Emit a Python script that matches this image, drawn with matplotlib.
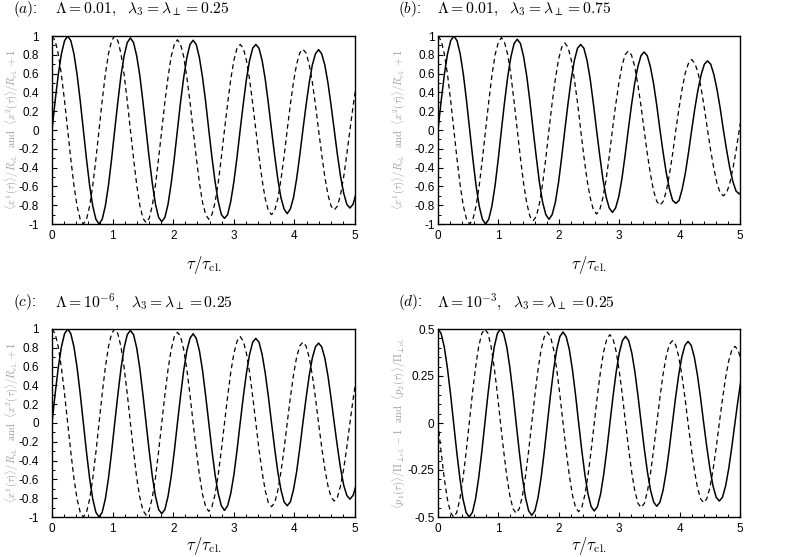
import numpy as np
import matplotlib
matplotlib.use("Agg")
import matplotlib.pyplot as plt
from matplotlib.ticker import MultipleLocator, FuncFormatter

plt.rcParams["mathtext.fontset"] = "cm"
plt.rcParams["axes.unicode_minus"] = False
plt.rcParams["font.family"] = ["Liberation Sans", "DejaVu Sans"]

# oscillation periods (tau / tau_cl.), samples every period/20
period_a = 1.035
period_b = 1.05
period_c = 1.035
period_d = 1.035

# (a) Lambda = 0.01, lambda = 0.25
solid_a = [0, .31, .59, .81, .95, 1.0, .95, .81, .59, .31,
           0, -.31, -.59, -.81, -.95, -1.0, -.95, -.81, -.59, -.31,
           0, .30, .58, .79, .93, .98, .93, .79, .58, .30,
           0, -.30, -.57, -.79, -.93, -.975, -.93, -.79, -.57, -.30,
           0, .30, .56, .77, .91, .955, .91, .77, .56, .30,
           0, -.29, -.55, -.76, -.90, -.94, -.90, -.76, -.55, -.29,
           0, .28, .54, .74, .87, .91, .87, .74, .54, .28,
           0, -.27, -.52, -.72, -.84, -.89, -.84, -.72, -.52, -.27,
           0, .26, .50, .69, .81, .855, .81, .69, .50, .26,
           0, -.26, -.49, -.67, -.79, -.83, -.79, -.67]
dashed_a = [1.0, .95, .81, .59, .31,
            0, -.31, -.59, -.81, -.95, -1.0, -.95, -.81, -.59, -.31,
            0, .31, .59, .81, .95, 1.0, .95, .81, .59, .31,
            0, -.30, -.58, -.80, -.94, -.985, -.94, -.80, -.58, -.30,
            0, .30, .56, .78, .91, .96, .91, .78, .56, .30,
            0, -.29, -.56, -.77, -.90, -.95, -.90, -.77, -.56, -.29,
            0, .28, .54, .74, .87, .91, .87, .74, .54, .28,
            0, -.28, -.53, -.73, -.86, -.90, -.86, -.73, -.53, -.28,
            0, .27, .51, .70, .82, .86, .82, .70, .51, .27,
            0, -.26, -.50, -.69, -.81, -.85, -.81, -.69, -.50, -.26,
            0, .25, .48]

# (b) Lambda = 0.01, lambda = 0.75
solid_b = [0, .31, .59, .81, .95, 1.0, .95, .81, .59, .31,
           0, -.31, -.59, -.81, -.95, -1.0, -.95, -.81, -.59, -.31,
           0, .30, .57, .78, .92, .965, .92, .78, .57, .30,
           0, -.29, -.56, -.77, -.90, -.95, -.90, -.77, -.56, -.29,
           0, .28, .54, .74, .87, .91, .87, .74, .54, .28,
           0, -.27, -.52, -.71, -.83, -.876, -.83, -.71, -.52, -.27,
           0, .26, .49, .67, .79, .83, .79, .67, .49, .26,
           0, -.24, -.46, -.63, -.75, -.78, -.75, -.63, -.46, -.24,
           0, .23, .43, .59, .70, .735, .70, .59, .43, .23,
           0, -.21, -.40, -.55, -.65, -.68, -.65]
dashed_b = [1.0, .95, .81, .59, .31,
            0, -.31, -.59, -.81, -.95, -1.0, -.95, -.81, -.59, -.31,
            0, .30, .58, .80, .93, .983, .93, .80, .58, .30,
            0, -.30, -.57, -.78, -.92, -.965, -.92, -.78, -.57, -.30,
            0, .29, .54, .75, .88, .926, .88, .75, .54, .29,
            0, -.28, -.53, -.72, -.85, -.894, -.85, -.72, -.53, -.28,
            0, .26, .49, .68, .80, .84, .80, .68, .49, .26,
            0, -.25, -.47, -.65, -.76, -.80, -.76, -.65, -.47, -.25,
            0, .23, .44, .61, .71, .75, .71, .61, .44, .23,
            0, -.22, -.41, -.57, -.67, -.70, -.67, -.57, -.41, -.22,
            0, .20]

# (c) Lambda = 1e-6, lambda = 0.25
solid_c = [0, .31, .59, .81, .95, 1.0, .95, .81, .59, .31,
           0, -.31, -.59, -.81, -.95, -1.0, -.95, -.81, -.59, -.31,
           0, .30, .58, .80, .94, .985, .94, .80, .58, .30,
           0, -.30, -.57, -.78, -.92, -.965, -.92, -.78, -.57, -.30,
           0, .29, .56, .77, .90, .95, .90, .77, .56, .29,
           0, -.29, -.55, -.75, -.88, -.93, -.88, -.75, -.55, -.29,
           0, .28, .53, .73, .86, .90, .86, .73, .53, .28,
           0, -.27, -.52, -.71, -.84, -.88, -.84, -.71, -.52, -.27,
           0, .26, .50, .69, .81, .85, .81, .69, .50, .26,
           0, -.25, -.48, -.66, -.77, -.81, -.77, -.66]
dashed_c = [1.0, .95, .81, .59, .31,
            0, -.31, -.59, -.81, -.95, -1.0, -.95, -.81, -.59, -.31,
            0, .31, .59, .81, .95, 1.0, .95, .81, .59, .31,
            0, -.30, -.58, -.79, -.93, -.98, -.93, -.79, -.58, -.30,
            0, .30, .57, .78, .92, .965, .92, .78, .57, .30,
            0, -.29, -.55, -.76, -.89, -.94, -.89, -.76, -.55, -.29,
            0, .28, .54, .74, .87, .92, .87, .74, .54, .28,
            0, -.28, -.52, -.72, -.85, -.89, -.85, -.72, -.52, -.28,
            0, .27, .51, .70, .82, .86, .82, .70, .51, .27,
            0, -.26, -.49, -.67, -.79, -.83, -.79, -.67, -.49, -.26,
            0, .25, .47]

# (d) Lambda = 1e-3, momenta
solid_d = [.5, .476, .405, .294, .155,
           0, -.155, -.294, -.405, -.476, -.5, -.476, -.405, -.294, -.155,
           0, .155, .294, .405, .476, .5, .476, .405, .294, .155,
           0, -.152, -.289, -.397, -.467, -.491, -.467, -.397, -.289, -.152,
           0, .150, .285, .392, .460, .484, .460, .392, .285, .150,
           0, -.145, -.275, -.379, -.445, -.468, -.445, -.379, -.275, -.145,
           0, .142, .271, .373, .438, .461, .438, .373, .271, .142,
           0, -.137, -.260, -.358, -.421, -.443, -.421, -.358, -.260, -.137,
           0, .134, .255, .351, .413, .434, .413, .351, .255, .134,
           0, -.128, -.244, -.336, -.395, -.415, -.395, -.336, -.244, -.128,
           0, .124, .235]
dashed_d = [0, -.155, -.294, -.405, -.476, -.5, -.476, -.405, -.294, -.155,
            0, .155, .294, .405, .476, .5, .476, .405, .294, .155,
            0, -.148, -.282, -.388, -.456, -.48, -.456, -.388, -.282, -.148,
            0, .149, .284, .391, .459, .483, .459, .391, .284, .149,
            0, -.146, -.278, -.382, -.449, -.472, -.449, -.382, -.278, -.146,
            0, .145, .276, .380, .447, .47, .447, .380, .276, .145,
            0, -.139, -.265, -.364, -.428, -.45, -.428, -.364, -.265, -.139,
            0, .135, .258, .354, .417, .438, .417, .354, .258, .135,
            0, -.131, -.249, -.343, -.403, -.424, -.403, -.343, -.249, -.131,
            0, .126, .240, .330, .388, .408, .388, .330]

titles = [r"$\Lambda = 0.01,\ \ \lambda_3 = \lambda_\perp = 0.25$",
          r"$\Lambda = 0.01,\ \ \lambda_3 = \lambda_\perp = 0.75$",
          r"$\Lambda = 10^{-6},\ \ \lambda_3 = \lambda_\perp = 0.25$",
          r"$\Lambda = 10^{-3},\ \ \lambda_3 = \lambda_\perp = 0.25$"]
letters = [r"$(a)$:", r"$(b)$:", r"$(c)$:", r"$(d)$:"]
ylab_x = (r"$\langle x^1(\tau)\rangle/R_{\rm cl.}\ \ {\rm and}\ \ "
          r"\langle x^2(\tau)\rangle/R_{\rm cl.}+1$")
ylab_p = (r"$\langle p_1(\tau)\rangle/\Pi_{\perp{\rm cl.}}-1\ \ {\rm and}\ \ "
          r"\langle p_2(\tau)\rangle/\Pi_{\perp{\rm cl.}}$")

panels = [
    (period_a, solid_a, dashed_a, ylab_x, 1.0),
    (period_b, solid_b, dashed_b, ylab_x, 1.0),
    (period_c, solid_c, dashed_c, ylab_x, 1.0),
    (period_d, solid_d, dashed_d, ylab_p, 0.5),
]

W, H = 789, 557
fig = plt.figure(figsize=(W / 100, H / 100), dpi=100)

# axes boxes in pixels: left, right, top, bottom
boxes = [(52, 355, 36, 224), (438, 740, 36, 224),
         (52, 355, 329, 517), (438, 740, 329, 517)]
title_y = [9, 9, 302, 302]
letter_x = [13, 398, 13, 398]
text_x = [55, 437, 55, 437]
ylab_xpos = [12, 399, 12, 399]
ytick_pad = [9.5, 2.5, 9.5, 2.5]
xlab_y = [265, 265, 546, 546]

fmt = FuncFormatter(lambda v, p: f"{round(v, 3):g}" if abs(v) > 1e-9 else "0")

for i, (period, solid, dashed, ylab, ymax) in enumerate(panels):
    l, r, t, b = boxes[i]
    ax = fig.add_axes([l / W, 1 - b / H, (r - l) / W, (b - t) / H])
    tau = np.arange(len(solid)) * period / 20
    ax.plot(tau, solid, color="black", lw=1.1)
    ax.plot(tau, dashed, color="black", lw=0.9, dashes=(3.8, 2.8))
    ax.set_xlim(0, 5)
    ax.set_ylim(-ymax, ymax)
    ax.xaxis.set_major_locator(MultipleLocator(1))
    ax.xaxis.set_minor_locator(MultipleLocator(0.2))
    if ymax == 1.0:
        ax.yaxis.set_major_locator(MultipleLocator(0.2))
        ax.yaxis.set_minor_locator(MultipleLocator(0.1))
    else:
        ax.yaxis.set_major_locator(MultipleLocator(0.25))
        ax.yaxis.set_minor_locator(MultipleLocator(0.05))
    ax.yaxis.set_major_formatter(fmt)
    ax.tick_params(which="both", direction="in", labelsize=8.5)
    ax.tick_params(axis="y", pad=ytick_pad[i])
    ax.tick_params(axis="x", pad=4)
    ax.tick_params(which="major", length=3.5, width=0.8)
    ax.tick_params(which="minor", length=2, width=0.7)
    for s in ax.spines.values():
        s.set_linewidth(1.0)

    fig.text(letter_x[i] / W, 1 - title_y[i] / H, letters[i], fontsize=11,
             ha="left", va="center")
    fig.text(text_x[i] / W, 1 - title_y[i] / H, titles[i], fontsize=11.3,
             ha="left", va="center")
    fig.text((l + r) / 2 / W, 1 - xlab_y[i] / H, r"$\tau/\tau_{\rm cl.}$",
             fontsize=12, ha="center", va="center")
    fig.text(ylab_xpos[i] / W, 1 - (t + b) / 2 / H, ylab, fontsize=7.6,
             color="#999999", rotation=90, ha="center", va="center")

fig.savefig("out.png", dpi=100)
